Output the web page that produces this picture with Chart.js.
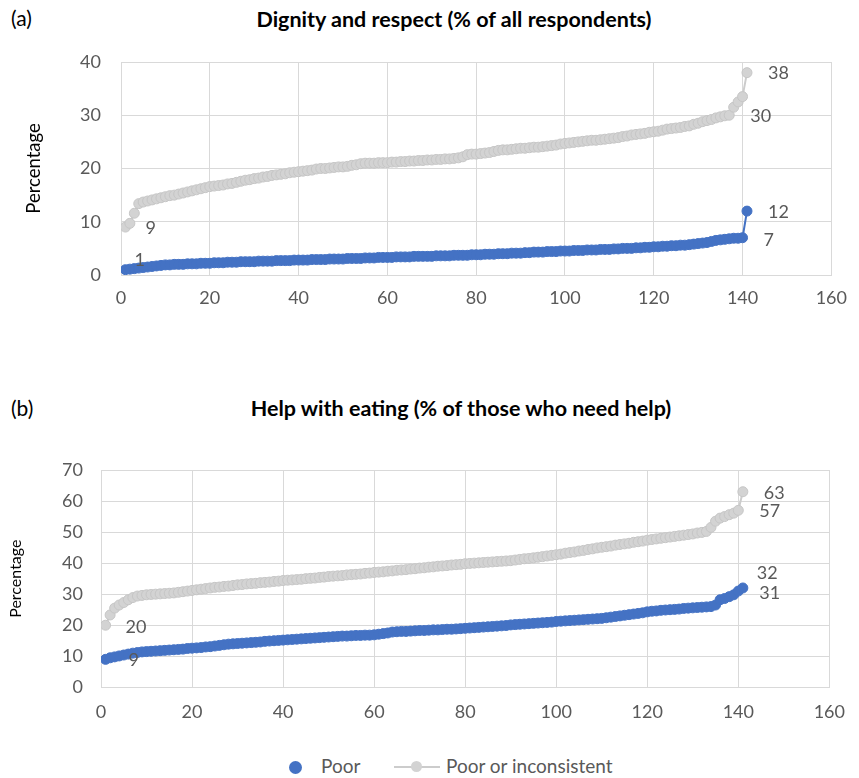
<!DOCTYPE html>
<html>
<head>
<meta charset="utf-8">
<script src="https://cdn.jsdelivr.net/npm/chart.js@4.4.1/dist/chart.umd.min.js"></script>
<style>
  html, body { margin: 0; padding: 0; background: #ffffff; }
  body { width: 859px; height: 778px; position: relative; overflow: hidden; font-family: Lato, "Open Sans", sans-serif; }
  .abs { position: absolute; white-space: nowrap; }
  .panel-tag { font-size: 21px; color: #000; }
  .panel-title { font-size: 21.5px; font-weight: bold; color: #000; transform: translateX(-50%); }
  #chartA { position: absolute; left: 0; top: 0; }
  #chartB { position: absolute; left: 0; top: 430px; }
  .legend { font-size: 19px; color: #595959; }
  .dot { position: absolute; border-radius: 50%; }
  .lline { position: absolute; height: 2px; background: #cccccc; }
</style>
</head>
<body>
<div class="abs panel-tag" style="left:11px; top:5px;">(a)</div>
<div class="abs panel-title" style="left:454px; top:6px;">Dignity and respect (% of all respondents)</div>
<canvas id="chartA" width="859" height="330"></canvas>

<div class="abs panel-tag" style="left:11px; top:395px;">(b)</div>
<div class="abs panel-title" style="left:461px; top:395px;">Help with eating (% of those who need help)</div>
<canvas id="chartB" width="859" height="300"></canvas>

<!-- shared legend -->
<div class="dot" style="left:289px; top:761px; width:13px; height:13px; background:#4472C4;"></div>
<div class="abs legend" style="left:321px; top:754px;">Poor</div>
<div class="lline" style="left:394px; top:766px; width:46px;"></div>
<div class="dot" style="left:411px; top:761px; width:11px; height:11px; background:#d3d3d3;"></div>
<div class="abs legend" style="left:446px; top:754px;">Poor or inconsistent</div>

<script>
// Rank of each hospital (1 = lowest percentage), shared by both panels
const hospitalRank = [
  1, 2, 3, 4, 5, 6, 7, 8, 9, 10,
  11, 12, 13, 14, 15, 16, 17, 18, 19, 20,
  21, 22, 23, 24, 25, 26, 27, 28, 29, 30,
  31, 32, 33, 34, 35, 36, 37, 38, 39, 40,
  41, 42, 43, 44, 45, 46, 47, 48, 49, 50,
  51, 52, 53, 54, 55, 56, 57, 58, 59, 60,
  61, 62, 63, 64, 65, 66, 67, 68, 69, 70,
  71, 72, 73, 74, 75, 76, 77, 78, 79, 80,
  81, 82, 83, 84, 85, 86, 87, 88, 89, 90,
  91, 92, 93, 94, 95, 96, 97, 98, 99, 100,
  101, 102, 103, 104, 105, 106, 107, 108, 109, 110,
  111, 112, 113, 114, 115, 116, 117, 118, 119, 120,
  121, 122, 123, 124, 125, 126, 127, 128, 129, 130,
  131, 132, 133, 134, 135, 136, 137, 138, 139, 140,
  141
];

// (a) Dignity and respect, % of all respondents
const dignityPoor = [
  1.0, 1.1, 1.2, 1.3, 1.4, 1.5, 1.6, 1.7, 1.8, 1.9,
  1.9, 2.0, 2.0, 2.0, 2.1, 2.1, 2.1, 2.2, 2.2, 2.2,
  2.3, 2.3, 2.3, 2.4, 2.4, 2.4, 2.5, 2.5, 2.5, 2.5,
  2.6, 2.6, 2.6, 2.6, 2.7, 2.7, 2.7, 2.7, 2.8, 2.8,
  2.8, 2.8, 2.9, 2.9, 2.9, 2.9, 3.0, 3.0, 3.0, 3.0,
  3.1, 3.1, 3.1, 3.1, 3.2, 3.2, 3.2, 3.3, 3.3, 3.3,
  3.3, 3.4, 3.4, 3.4, 3.4, 3.5, 3.5, 3.5, 3.5, 3.5,
  3.6, 3.6, 3.6, 3.6, 3.7, 3.7, 3.7, 3.7, 3.8, 3.8,
  3.8, 3.9, 3.9, 3.9, 4.0, 4.0, 4.0, 4.1, 4.1, 4.1,
  4.2, 4.2, 4.3, 4.3, 4.3, 4.4, 4.4, 4.4, 4.5, 4.5,
  4.5, 4.6, 4.6, 4.6, 4.7, 4.7, 4.7, 4.8, 4.8, 4.8,
  4.9, 4.9, 5.0, 5.0, 5.0, 5.1, 5.1, 5.2, 5.2, 5.3,
  5.3, 5.4, 5.4, 5.5, 5.5, 5.6, 5.6, 5.7, 5.8, 5.9,
  6.0, 6.1, 6.3, 6.5, 6.6, 6.7, 6.8, 6.9, 6.9, 7.0,
  12.0
];
const dignityPoorOrInconsistent = [
  9.0, 9.7, 11.6, 13.4, 13.7, 13.9, 14.1, 14.3, 14.5, 14.7,
  14.9, 15.0, 15.2, 15.4, 15.6, 15.8, 16.0, 16.2, 16.4, 16.6,
  16.7, 16.8, 16.9, 17.1, 17.2, 17.4, 17.6, 17.8, 17.9, 18.1,
  18.2, 18.4, 18.5, 18.7, 18.8, 18.9, 19.0, 19.2, 19.3, 19.4,
  19.5, 19.6, 19.7, 19.9, 20.0, 20.0, 20.1, 20.2, 20.3, 20.3,
  20.4, 20.6, 20.7, 20.9, 21.0, 21.0, 21.0, 21.1, 21.1, 21.1,
  21.2, 21.2, 21.3, 21.3, 21.4, 21.4, 21.5, 21.5, 21.6, 21.6,
  21.7, 21.7, 21.8, 21.8, 21.9, 22.0, 22.2, 22.6, 22.7, 22.7,
  22.8, 22.9, 23.0, 23.2, 23.4, 23.5, 23.5, 23.6, 23.7, 23.8,
  23.8, 23.9, 24.0, 24.0, 24.1, 24.2, 24.3, 24.4, 24.6, 24.7,
  24.8, 24.9, 25.0, 25.1, 25.2, 25.3, 25.3, 25.4, 25.5, 25.6,
  25.7, 25.8, 26.0, 26.1, 26.3, 26.4, 26.5, 26.6, 26.8, 26.9,
  27.0, 27.2, 27.4, 27.5, 27.6, 27.7, 27.9, 28.0, 28.3, 28.5,
  28.8, 29.0, 29.2, 29.5, 29.7, 29.9, 30.0, 31.5, 32.5, 33.5,
  38.0
];

// (b) Help with eating, % of those who need help
const eatingPoor = [
  9.0, 9.5, 9.8, 10.1, 10.4, 10.7, 11.0, 11.2, 11.4, 11.5,
  11.6, 11.7, 11.8, 11.9, 12.0, 12.1, 12.2, 12.3, 12.5, 12.6,
  12.7, 12.8, 13.0, 13.1, 13.3, 13.5, 13.7, 13.9, 14.0, 14.1,
  14.2, 14.3, 14.4, 14.5, 14.6, 14.8, 14.9, 15.0, 15.1, 15.2,
  15.3, 15.4, 15.5, 15.6, 15.7, 15.8, 15.9, 16.0, 16.1, 16.2,
  16.3, 16.4, 16.5, 16.5, 16.6, 16.7, 16.7, 16.8, 16.8, 16.9,
  17.1, 17.3, 17.5, 17.8, 17.9, 18.0, 18.0, 18.1, 18.2, 18.3,
  18.3, 18.4, 18.5, 18.5, 18.6, 18.7, 18.7, 18.8, 18.9, 19.0,
  19.1, 19.2, 19.3, 19.4, 19.5, 19.6, 19.7, 19.8, 19.9, 20.1,
  20.2, 20.3, 20.4, 20.5, 20.6, 20.7, 20.8, 20.9, 21.0, 21.2,
  21.3, 21.4, 21.5, 21.6, 21.7, 21.8, 21.9, 22.0, 22.1, 22.2,
  22.4, 22.6, 22.8, 23.0, 23.2, 23.4, 23.6, 23.8, 24.0, 24.3,
  24.5, 24.6, 24.8, 24.9, 25.0, 25.1, 25.2, 25.4, 25.5, 25.6,
  25.7, 25.8, 25.9, 26.0, 26.5, 28.2, 28.6, 29.2, 29.8, 31.0,
  32.0
];
const eatingPoorOrInconsistent = [
  20.0, 23.3, 25.5, 26.5, 27.3, 28.2, 28.9, 29.4, 29.6, 29.8,
  29.9, 30.0, 30.1, 30.2, 30.3, 30.4, 30.6, 30.8, 31.0, 31.2,
  31.4, 31.6, 31.8, 32.0, 32.2, 32.3, 32.5, 32.6, 32.8, 33.0,
  33.1, 33.3, 33.4, 33.5, 33.7, 33.8, 33.9, 34.1, 34.2, 34.4,
  34.5, 34.6, 34.7, 34.8, 35.0, 35.1, 35.2, 35.4, 35.5, 35.7,
  35.8, 35.9, 36.0, 36.2, 36.3, 36.4, 36.5, 36.7, 36.8, 37.0,
  37.1, 37.2, 37.4, 37.5, 37.7, 37.8, 37.9, 38.1, 38.2, 38.4,
  38.5, 38.7, 38.8, 39.0, 39.1, 39.2, 39.4, 39.5, 39.6, 39.8,
  39.9, 40.0, 40.1, 40.2, 40.3, 40.4, 40.5, 40.6, 40.7, 40.8,
  41.0, 41.2, 41.4, 41.5, 41.7, 41.9, 42.1, 42.3, 42.5, 42.7,
  42.9, 43.2, 43.4, 43.6, 43.9, 44.1, 44.4, 44.6, 44.9, 45.1,
  45.3, 45.5, 45.8, 46.0, 46.2, 46.4, 46.7, 46.9, 47.1, 47.4,
  47.6, 47.8, 48.0, 48.2, 48.4, 48.6, 48.8, 49.0, 49.2, 49.4,
  49.7, 49.9, 50.2, 51.5, 53.5, 54.5, 55.0, 55.6, 56.1, 57.0,
  63.0
];

// Axis tick values
const xTicks = [0, 20, 40, 60, 80, 100, 120, 140, 160];
const yTicksA = [0, 10, 20, 30, 40];
const yTicksB = [0, 10, 20, 30, 40, 50, 60, 70];

const BLUE = '#4472C4';
const GREY = '#d3d3d3';
const GREY_EDGE = '#c6c6c6';
const TEXT = '#595959';
const GRID = '#d9d9d9';

const toPoints = (ys) => hospitalRank.map((r, i) => ({ x: r, y: ys[i] }));

// Writes the value of selected points beside them
const valueLabels = {
  id: 'valueLabels',
  afterDatasetsDraw(chart, args, opts) {
    const ctx = chart.ctx;
    ctx.save();
    ctx.font = opts.font;
    ctx.fillStyle = opts.color;
    ctx.textAlign = 'left';
    ctx.textBaseline = 'middle';
    for (const it of opts.items) {
      const el = chart.getDatasetMeta(it.dataset).data[it.index];
      const v = chart.data.datasets[it.dataset].data[it.index].y;
      ctx.fillText(String(Math.round(v)), el.x + it.dx, el.y + it.dy);
    }
    ctx.restore();
  }
};

function makeChart(canvasId, poor, poorInc, yTicks, layout, labelItems) {
  const yMax = yTicks[yTicks.length - 1];
  return new Chart(document.getElementById(canvasId), {
    type: 'line',
    data: {
      datasets: [
        {
          label: 'Poor',
          data: toPoints(poor),
          borderColor: BLUE,
          borderWidth: 2,
          backgroundColor: BLUE,
          pointBackgroundColor: BLUE,
          pointBorderColor: BLUE,
          pointBorderWidth: 1,
          pointRadius: 5,
          tension: 0
        },
        {
          label: 'Poor or inconsistent',
          data: toPoints(poorInc),
          borderColor: '#cccccc',
          borderWidth: 2,
          backgroundColor: GREY,
          pointBackgroundColor: GREY,
          pointBorderColor: GREY_EDGE,
          pointBorderWidth: 1,
          pointRadius: 5,
          tension: 0
        }
      ]
    },
    options: {
      responsive: false,
      animation: false,
      events: [],
      layout: { padding: layout.padding },
      plugins: {
        legend: { display: false },
        tooltip: { enabled: false },
        valueLabels: { font: '18px Lato, "Open Sans", sans-serif', color: TEXT, items: labelItems }
      },
      scales: {
        x: {
          type: 'linear',
          min: 0,
          max: 160,
          afterBuildTicks: (s) => { s.ticks = xTicks.map(v => ({ value: v })); },
          ticks: { color: TEXT, font: { family: 'Lato', size: 18 }, padding: layout.xPad },
          grid: { color: GRID, lineWidth: 1, drawTicks: false },
          border: { color: GRID },
          afterFit: (s) => { s.height = layout.xHeight; }
        },
        y: {
          min: 0,
          max: yMax,
          afterBuildTicks: (s) => { s.ticks = yTicks.map(v => ({ value: v })); },
          ticks: { color: TEXT, font: { family: 'Lato', size: 18 }, padding: layout.yPad },
          grid: { color: GRID, lineWidth: 1, drawTicks: false },
          border: { color: GRID },
          title: {
            display: true,
            text: 'Percentage',
            color: '#000000',
            font: { family: 'Lato', size: layout.titleSize },
            padding: { top: layout.titleOffset, bottom: 0 }
          },
          afterFit: (s) => { s.width = layout.yWidth; }
        }
      }
    },
    plugins: [valueLabels]
  });
}

// (a)
makeChart('chartA', dignityPoor, dignityPoorOrInconsistent, yTicksA,
  { padding: { top: 62, right: 20, bottom: 20, left: 0 }, xHeight: 35, xPad: 12, yPad: 20, yWidth: 121, titleSize: 18.5, titleOffset: 23 },
  [
    { dataset: 1, index: 140, dx: 21, dy: 1 },
    { dataset: 1, index: 136, dx: 21, dy: 1 },
    { dataset: 0, index: 140, dx: 21, dy: 1 },
    { dataset: 0, index: 139, dx: 21, dy: 2 },
    { dataset: 1, index: 0, dx: 20, dy: 1 },
    { dataset: 0, index: 0, dx: 9, dy: -9 }
  ]);

// (b)
makeChart('chartB', eatingPoor, eatingPoorOrInconsistent, yTicksB,
  { padding: { top: 40, right: 21, bottom: 0, left: 0 }, xHeight: 42.7, xPad: 14, yPad: 18, yWidth: 101, titleSize: 16, titleOffset: 6 },
  [
    { dataset: 1, index: 140, dx: 21, dy: 1 },
    { dataset: 1, index: 139, dx: 21, dy: 1 },
    { dataset: 0, index: 140, dx: 14, dy: -15 },
    { dataset: 0, index: 139, dx: 21, dy: 2 },
    { dataset: 1, index: 0, dx: 20, dy: 2 },
    { dataset: 0, index: 0, dx: 23, dy: 1 }
  ]);
</script>
</body>
</html>
